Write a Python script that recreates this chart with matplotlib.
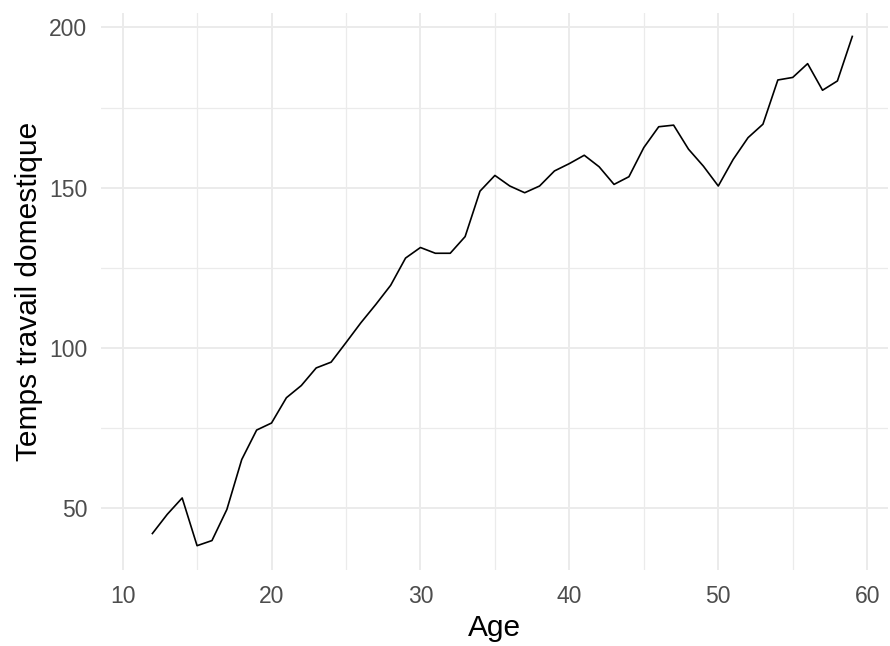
import matplotlib
matplotlib.use("Agg")
import matplotlib.pyplot as plt
from matplotlib.ticker import MultipleLocator

plt.rcParams['font.family'] = ['Liberation Sans', 'DejaVu Sans']

age = list(range(12, 60))
temps = [42.0, 48.0, 53.1, 38.2, 39.8, 49.5, 65.1, 74.3, 76.5, 84.4,
         88.2, 93.7, 95.5, 101.6, 107.8, 113.5, 119.5, 128.0, 131.3, 129.5,
         129.5, 134.7, 148.9, 153.8, 150.5, 148.4, 150.5, 155.2, 157.5, 160.1,
         156.5, 151.0, 153.4, 162.5, 169.0, 169.5, 162.0, 156.7, 150.5, 158.8,
         165.6, 169.8, 183.6, 184.4, 188.7, 180.4, 183.3, 197.2]

x_ticks = [10, 20, 30, 40, 50, 60]
y_ticks = [50, 100, 150, 200]

fig = plt.figure(figsize=(8.9, 6.46), dpi=100)
ax = fig.add_axes([0.1135, 0.1176, 0.8843, 0.8627])

ax.set_xlim(8.55, 61.4)
ax.set_ylim(30.6, 204.6)
ax.set_xticks(x_ticks)
ax.set_yticks(y_ticks)
ax.xaxis.set_minor_locator(MultipleLocator(5))
ax.yaxis.set_minor_locator(MultipleLocator(25))
ax.grid(which='major', color='#EBEBEB', linewidth=1.4)
ax.grid(which='minor', color='#EBEBEB', linewidth=0.9)
ax.set_axisbelow(True)
for s in ax.spines.values():
    s.set_visible(False)
ax.tick_params(which='both', length=0)
ax.tick_params(axis='both', labelsize=16.5, labelcolor='#4D4D4D')
ax.tick_params(axis='x', pad=11)
ax.tick_params(axis='y', pad=10)

ax.plot(age, temps, color='black', linewidth=1.2)

ax.set_xlabel('Age', fontsize=21.5, color='black', labelpad=4)
ax.set_ylabel('Temps travail domestique', fontsize=21.5, color='black', labelpad=4)

fig.savefig('out.png', dpi=100)
